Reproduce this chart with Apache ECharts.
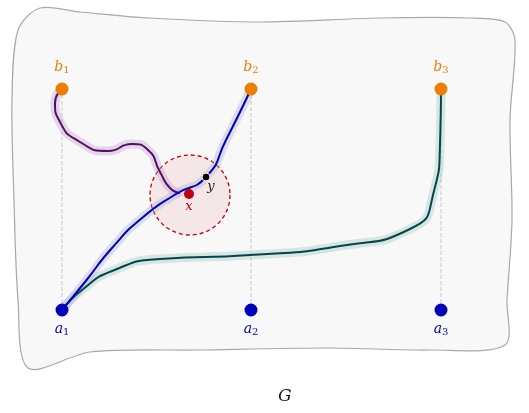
<!DOCTYPE html><html><head><meta charset="utf-8">
<script src="https://cdn.jsdelivr.net/npm/echarts@6/dist/echarts.min.js"></script>
<style>html,body{margin:0;background:#fff}#c{width:529px;height:413px}</style></head><body><div id="c"></div>
<script>
const blob=[[40,8],[80,12],[150,18],[260,22],[380,18],[470,18],[505,22],[515,40],[510,120],[512,220],[507,300],[505,345],[430,350],[330,348],[200,350],[90,352],[28,368],[18,300],[14,200],[12,100],[18,30]];
const aPts=[[62,310],[251,310],[441,310]];
const bPts=[[62,89],[251,89],[441,89]];
const aLabels=['a1','a2','a3'];
const bLabels=['b1','b2','b3'];
const purple=[[62,89],[55,103],[60,122],[80,142],[108,151],[132,144],[148,150],[160,172],[170,188],[180,193]];
const blue=[[62,310],[85,282],[112,248],[142,218],[176,194],[206,177],[226,140],[251,89]];
const teal=[[62,310],[82,290],[112,271],[160,259],[250,255],[340,246],[412,228],[433,195],[440,145],[441,89]];
const ballC=[190,195], ballR=40;
const xPt=[189,194], yPt=[206,177];
const serif='"DejaVu Serif", serif';
const sub=(s,c)=>'{m|'+s[0]+'}{s|'+s.slice(1)+'}';
const rich=c=>({m:{fontFamily:serif,fontStyle:'italic',fontSize:14,color:c},s:{fontFamily:serif,fontSize:10,color:c,padding:[6,0,0,0]}});
const chart=echarts.init(document.getElementById('c'));
function curve(d,c,glow){return [
 {type:'line',data:d,smooth:0.6,symbol:'none',lineStyle:{color:glow,width:9,opacity:0.35},z:2,silent:true},
 {type:'line',data:d,smooth:0.6,symbol:'none',lineStyle:{color:c,width:2},z:3,silent:true}];}
const dashes=aPts.map((a,i)=>({type:'line',data:[bPts[i],a],symbol:'none',lineStyle:{color:'#c8c8c8',type:'dashed',width:1},z:1}));
chart.setOption({animation:false,
 grid:{left:0,right:0,top:0,bottom:0},
 xAxis:{type:'value',min:0,max:529,show:false},
 yAxis:{type:'value',min:0,max:413,inverse:true,show:false},
 series:[
  {type:'custom',z:0,renderItem:(p,api)=>({type:'polygon',shape:{points:blob.map(q=>api.coord(q)),smooth:0.3},style:{fill:'#f8f8f8',stroke:'#a8a8a8',lineWidth:1.2}}),data:[0]},
  ...dashes,
  {type:'custom',z:1,renderItem:(p,api)=>{const c=api.coord(ballC);const r=api.coord([ballC[0]+ballR,0])[0]-c[0];return {type:'circle',shape:{cx:c[0],cy:c[1],r},style:{fill:'rgba(240,200,200,0.35)',stroke:'#c00010',lineWidth:1.3,lineDash:[4,3]}};},data:[0]},
  ...curve(purple,'#5a0a6a','#b89ac8'),
  ...curve(teal,'#004848','#9cc4c4'),
  ...curve(blue,'#0000b8','#a8a8d8'),
  {type:'scatter',data:bPts.map((p,i)=>({value:p,label:{formatter:sub(bLabels[i])}})),symbolSize:13,itemStyle:{color:'#ef7d00',opacity:1},z:5,
   label:{show:true,position:'top',distance:7,rich:rich('#e8800c')}},
  {type:'scatter',data:aPts.map((p,i)=>({value:p,label:{formatter:sub(aLabels[i])}})),symbolSize:13,itemStyle:{color:'#0000b8',opacity:1},z:5,
   label:{show:true,position:'bottom',distance:5,rich:rich('#0000b0')}},
  {type:'scatter',data:[xPt],symbolSize:10,itemStyle:{color:'#c00010',opacity:1},z:6,label:{show:true,position:'bottom',distance:1,formatter:'x',fontFamily:serif,fontStyle:'italic',fontSize:13,color:'#c00010'}},
  {type:'scatter',data:[yPt],symbolSize:8,itemStyle:{color:'#000',borderColor:'#fff',borderWidth:1,opacity:1},z:6,label:{show:true,position:'bottom',offset:[5,-2],distance:1,formatter:'y',fontFamily:serif,fontStyle:'italic',fontSize:13,color:'#222'}}
 ],
 graphic:[
  {type:'text',x:153,y:131,style:{text:'Ball(',fill:'#c00010',font:'13px '+serif}},
  {type:'text',x:188,y:131,style:{text:'x, ρ',fill:'#c00010',font:'italic 13px '+serif}},
  {type:'text',x:213,y:131,style:{text:')',fill:'#c00010',font:'13px '+serif}},
  {type:'text',x:101,y:219,style:{text:'{m|P}{s|2}',rich:rich('#0000b0')}},
  {type:'text',x:306,y:262,style:{text:'{m|P}{s|3}',rich:rich('#004848')}},
  {type:'text',x:278,y:388,style:{text:'G',fill:'#111',font:'italic 17px '+serif}}
 ]});
</script></body></html>
